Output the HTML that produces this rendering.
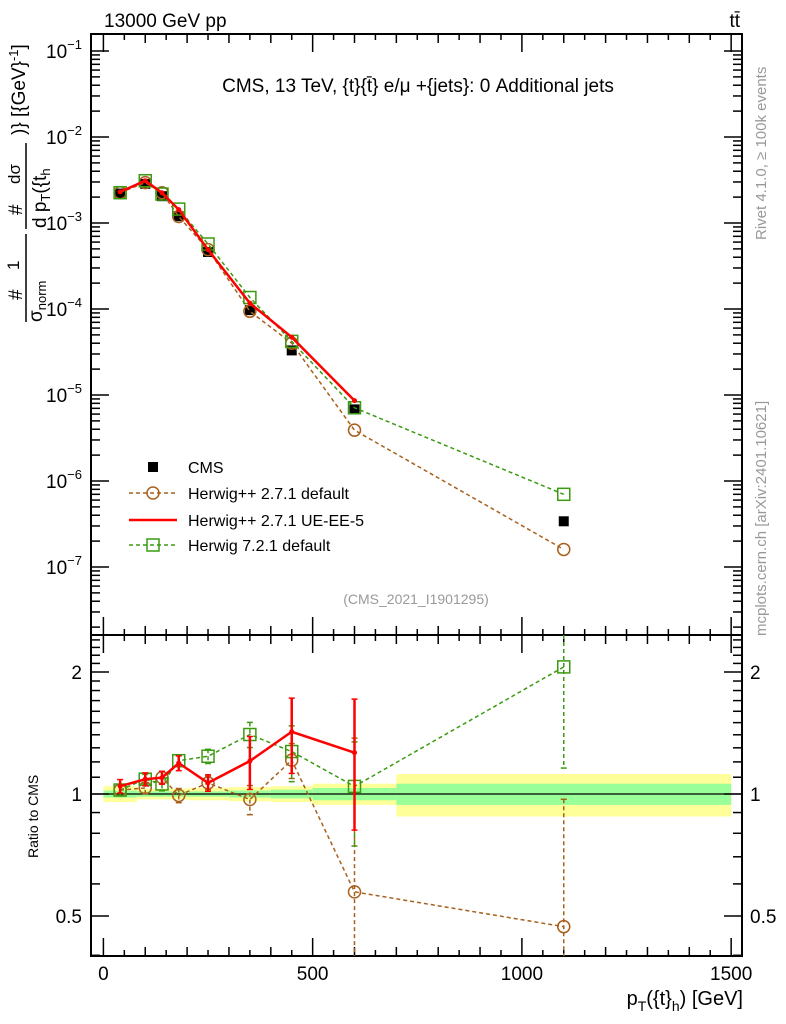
<!DOCTYPE html>
<html><head><meta charset="utf-8"><style>
html,body{margin:0;padding:0;background:#fff;}
svg{display:block;font-family:"Liberation Sans",sans-serif;}
</style></head><body>
<svg id="chart" width="786" height="1024" viewBox="0 0 786 1024" xmlns="http://www.w3.org/2000/svg">
<g id="bands"></g>
<g id="axes"></g>
<g id="series"></g>
<text x="104" y="27" font-size="19">13000 GeV pp</text>
<text x="740" y="27" font-size="19" text-anchor="end">tt̄</text>
<text x="418" y="92" font-size="19" text-anchor="middle">CMS, 13 TeV, {t}{t̄} e/μ +{jets}: 0 Additional jets</text>
<text x="416" y="604" font-size="14" fill="#999" text-anchor="middle">(CMS_2021_I1901295)</text>
<text transform="translate(766,240) rotate(-90)" font-size="15" fill="#999">Rivet 4.1.0, ≥ 100k events</text>
<text transform="translate(766,636) rotate(-90)" font-size="15" fill="#999">mcplots.cern.ch [arXiv:2401.10621]</text>
<g>
<g transform="rotate(-90)" font-size="19">
<text x="-300" y="22">#</text>
<text x="-270" y="19" font-size="17">1</text>
<text x="-322" y="42">σ<tspan font-size="13" dy="4">norm</tspan></text>
<text x="-215" y="22">#</text>
<text x="-184" y="20" font-size="17">dσ</text>
<text x="-228" y="46">d p<tspan font-size="13" dy="4">T</tspan><tspan dy="-4">({t</tspan><tspan font-size="13" dy="4">h</tspan></text>
<text x="-135" y="25">)} [{GeV}<tspan font-size="13" dy="-7">-1</tspan><tspan dy="7">]</tspan></text>
</g>
<line x1="26" y1="322" x2="26" y2="234" stroke="#000" stroke-width="1.5"/>
<line x1="26" y1="229" x2="26" y2="143" stroke="#000" stroke-width="1.5"/>
</g>
<text transform="translate(38,858) rotate(-90)" font-size="14">Ratio to CMS</text>
<text x="743" y="1005" font-size="20" text-anchor="end">p<tspan font-size="14" dy="6">T</tspan><tspan dy="-6">({t}</tspan><tspan font-size="14" dy="6">h</tspan><tspan dy="-6">) [GeV]</tspan></text>
<g id="legend"></g>
</svg>
<script>
const xCenters=[40,100,140,180,250,350,450,600,1100];
const cmsVals=[2.2e-3,2.85e-3,2.05e-3,1.2e-3,4.6e-4,9.7e-5,3.3e-5,6.8e-6,3.4e-7];
const hppVals=[2.25e-3,2.95e-3,2.25e-3,1.19e-3,4.9e-4,9.4e-5,4.0e-5,3.9e-6,1.6e-7];
const ueVals=[2.3e-3,3.1e-3,2.25e-3,1.43e-3,4.9e-4,1.17e-4,4.7e-5,8.6e-6,null];
const h7Vals=[2.25e-3,3.1e-3,2.17e-3,1.45e-3,5.7e-4,1.36e-4,4.2e-5,7.1e-6,7.0e-7];
const hppErr=[0.03,0.03,0.04,0.04,0.04,0.08,0.12,0.8,0.5];
const ueErr=[0.04,0.04,0.04,0.05,0.05,0.18,0.3,0.45,null];
const h7Err=[0.03,0.03,0.04,0.04,0.05,0.1,0.2,0.3,0.9];
const binEdges=[0,80,200,300,400,500,700,1500];
const bandYellow=[0.045,0.03,0.035,0.04,0.045,0.06,0.12];
const bandGreen=[0.02,0.015,0.015,0.02,0.025,0.035,0.06];
const xTicks=[0,500,1000,1500];
const yTickExp=[-7,-6,-5,-4,-3,-2,-1];
const rTicks=[0.5,1,2];

const L=91,R=742,T=34,MB=635,RB=956;
const xs=v=>103.4+v*0.4185;
const ym=v=>51-86*(Math.log10(v)+1);
const yr=r=>794-122*Math.log2(r);
const NS='http://www.w3.org/2000/svg';
function mk(tag,at,parent){const e=document.createElementNS(NS,tag);for(const k in at)e.setAttribute(k,at[k]);parent.appendChild(e);return e;}
const axes=document.getElementById('axes'),ser=document.getElementById('series'),bands=document.getElementById('bands'),leg=document.getElementById('legend');

for(let i=0;i<bandYellow.length;i++){
 const x1=xs(binEdges[i]),x2=xs(binEdges[i+1]);
 let r=mk('rect',{x:x1,y:yr(1+bandYellow[i]),width:x2-x1,height:yr(1-bandYellow[i])-yr(1+bandYellow[i]),fill:'#ffff99'},bands);
 
 
 let g=mk('rect',{x:x1,y:yr(1+bandGreen[i]),width:x2-x1,height:yr(1-bandGreen[i])-yr(1+bandGreen[i]),fill:'#99ff99'},bands);
 
 
}
let ref=mk('line',{x1:L,x2:R,y1:yr(1),y2:yr(1),stroke:'#000','stroke-width':1.2},bands);



const st={fill:'none',stroke:'#000','stroke-width':2};
mk('rect',Object.assign({x:L,y:T,width:R-L,height:MB-T},st),axes);
mk('rect',Object.assign({x:L,y:MB,width:R-L,height:RB-MB},st),axes);
function ln(x1,y1,x2,y2){mk('line',{x1,y1,x2,y2,stroke:'#000','stroke-width':1.5},axes);}
for(let v=0;v<=1500;v+=50){
 const x=xs(v),len=v%500===0?18:(v%100===0?9:6);
 ln(x,T,x,T+len);ln(x,MB,x,MB-len);ln(x,MB,x,MB+len);ln(x,RB,x,RB-len);
}
xTicks.forEach(v=>{const t=mk('text',{x:xs(v),y:980,'font-size':19,'text-anchor':'middle'},axes);t.textContent=v;
 
 });
for(let e=-8;e<=-1;e++){for(let m=1;m<10;m++){const v=m*Math.pow(10,e),y=ym(v);if(y<T||y>MB)continue;const len=m===1?18:9;ln(L,y,L+len,y);ln(R,y,R-len,y);}}
yTickExp.forEach(e=>{const t=mk('text',{x:82,y:ym(Math.pow(10,e))+7,'font-size':19,'text-anchor':'end'},axes);
 t.innerHTML='10<tspan font-size="13" dy="-9">−'+(-e)+'</tspan>';
 
 });
for(let r=0.4;r<=2.5;r+=0.1){const y=yr(r);if(y<MB||y>RB)continue;const big=[0.5,1,2].some(q=>Math.abs(q-r)<1e-6);const len=big?18:9;ln(L,y,L+len,y);ln(R,y,R-len,y);}
rTicks.forEach(r=>{const t=mk('text',{x:82,y:yr(r)+7,'font-size':19,'text-anchor':'end'},axes);t.textContent=r;
 
 
 const t2=mk('text',{x:750,y:yr(r)+7,'font-size':19},axes);t2.textContent=r;
 
 });

const clipY=y=>Math.max(MB,Math.min(RB,y));
function series(vals,errs,color,dash,marker,name,width){
 const g=mk('g',{},ser);
 
 
 const mp=[],rp=[];
 vals.forEach((v,i)=>{if(v==null)return;const r=v/cmsVals[i];mp.push([xs(xCenters[i]),ym(v)]);rp.push([xs(xCenters[i]),yr(r),r,errs[i]]);});
 const pl=p=>p.map(q=>q[0]+','+q[1]).join(' ');
 const a={fill:'none',stroke:color,'stroke-width':width};if(dash)a['stroke-dasharray']=dash;
 mk('polyline',Object.assign({points:pl(mp)},a),g);
 mk('polyline',Object.assign({points:pl(rp)},a),g);
 rp.forEach(q=>{const y1=clipY(yr(q[2]+q[3])),y2=clipY(yr(Math.max(0.01,q[2]-q[3])));
  const ea={x1:q[0],x2:q[0],y1:y1,y2:y2,stroke:color,'stroke-width':width};if(dash)ea['stroke-dasharray']=dash;
  mk('line',ea,g);
  if(y1>MB)mk('line',{x1:q[0]-3,x2:q[0]+3,y1:y1,y2:y1,stroke:color,'stroke-width':1.5},g);
  if(y2<RB)mk('line',{x1:q[0]-3,x2:q[0]+3,y1:y2,y2:y2,stroke:color,'stroke-width':1.5},g);});
 mp.concat(rp).forEach(q=>drawMarker(g,marker,q[0],q[1],color));
}
function drawMarker(g,m,x,y,c){
 if(m==='circle')mk('circle',{cx:x,cy:y,r:6,fill:'none',stroke:c,'stroke-width':1.5},g);
 else if(m==='square')mk('rect',{x:x-6,y:y-6,width:12,height:12,fill:'none',stroke:c,'stroke-width':1.5},g);
 else if(m==='filled')mk('rect',{x:x-5,y:y-5,width:10,height:10,fill:c},g);
 else if(m==='dot')mk('circle',{cx:x,cy:y,r:2.5,fill:c},g);
}
const cg=mk('g',{},ser);


cmsVals.forEach((v,i)=>drawMarker(cg,'filled',xs(xCenters[i]),ym(v),'#000'));
series(hppVals,hppErr,'#a8601c','4,3','circle','herwigpp-default',1.5);
series(h7Vals,h7Err,'#3a9a10','4,3','square','herwig7-default',1.5);
series(ueVals,ueErr,'#ff0000',null,'dot','herwigpp-ue-ee-5',2.5);

const items=[['CMS','filled','#000',null,0],['Herwig++ 2.7.1 default','circle','#a8601c','4,3',1.5],['Herwig++ 2.7.1 UE-EE-5','none','#ff0000',null,2.5],['Herwig 7.2.1 default','square','#3a9a10','4,3',1.5]];
const ly=[467,493,520,545];
items.forEach((it,i)=>{const g=mk('g',{},leg);
 
 
 if(it[4]){const a={x1:129,x2:177,y1:ly[i],y2:ly[i],stroke:it[2],'stroke-width':it[4]};if(it[3])a['stroke-dasharray']=it[3];mk('line',a,g);}
 drawMarker(g,it[1],153,ly[i],it[2]);
 const t=mk('text',{x:188,y:ly[i]+6,'font-size':16},g);t.textContent=it[0];});
</script>
</body></html>
